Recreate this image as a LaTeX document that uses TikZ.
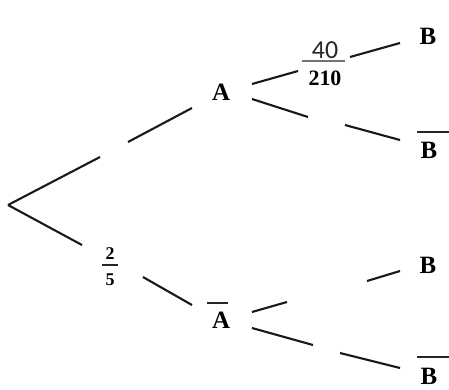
\documentclass[tikz,border=0pt]{standalone}
\usepackage{fontspec}
\setmainfont{Liberation Serif}
\newfontfamily\sansf{Carlito}
\begin{document}
\begin{tikzpicture}[x=1bp,y=-1bp,
  lbl/.style={inner sep=0pt, font=\fontsize{25}{25}\selectfont\bfseries},
  small/.style={inner sep=0pt, font=\fontsize{18}{18}\selectfont\bfseries},
  mid/.style={inner sep=0pt, font=\fontsize{22}{22}\selectfont\bfseries},
  sfn/.style={inner sep=0pt, font=\fontsize{26}{26}\selectfont\sansf, text=black!85},
  edge/.style={line width=2.1bp, black!90},
  bar/.style={line width=1.6bp, black!85},
  gbar/.style={line width=2bp, black!55}]
\useasboundingbox (0,0) rectangle (449,389);
% nodes
\coordinate (root) at (8,205);
\node[lbl] (A) at (221,92) {A};
\node[lbl] (A2) at (221,320) {A};
\node[lbl] (B1) at (428,36) {B};
\node[lbl] (B2) at (429,150) {B};
\node[lbl] (B3) at (428,265) {B};
\node[lbl] (B4) at (429,376) {B};
\node[sfn] (n40) at (325,50) {40};
\node[mid] (n210) at (325,78) {210};
\node[small] (n2) at (110,254) {2};
\node[small] (n5) at (110,280) {5};
% bars
\coordinate (gA1) at (207,303); \coordinate (gA2) at (228,303);
\draw[bar] (gA1) -- (gA2);
\coordinate (gB21) at (417,132); \coordinate (gB22) at (449,132);
\draw[bar] (gB21) -- (gB22);
\coordinate (gB41) at (417,357); \coordinate (gB42) at (449,357);
\draw[bar] (gB41) -- (gB42);
\coordinate (f1) at (302,61); \coordinate (f2) at (345,61);
\draw[gbar] (f1) -- (f2);
\coordinate (f3) at (102,265); \coordinate (f4) at (118,265);
\draw[bar] (f3) -- (f4);
% edge segments (with gaps)
\coordinate (e1a) at (100,157); \coordinate (e1b) at (128,142); \coordinate (e1c) at (192,108);
\draw[edge] (root) -- (e1a) (e1b) -- (e1c);
\coordinate (e2a) at (252,84); \coordinate (e2b) at (298,71);
\coordinate (e2c) at (350,57); \coordinate (e2d) at (400,43);
\draw[edge] (e2a) -- (e2b) (e2c) -- (e2d);
\coordinate (e3a) at (252,99); \coordinate (e3b) at (308,117);
\coordinate (e3c) at (345,125); \coordinate (e3d) at (400,140);
\draw[edge] (e3a) -- (e3b) (e3c) -- (e3d);
\coordinate (e4a) at (82,245); \coordinate (e4b) at (143,277); \coordinate (e4c) at (192,305);
\draw[edge] (root) -- (e4a) (e4b) -- (e4c);
\coordinate (e5a) at (252,312); \coordinate (e5b) at (287,302);
\coordinate (e5c) at (367,281); \coordinate (e5d) at (400,271);
\draw[edge] (e5a) -- (e5b) (e5c) -- (e5d);
\coordinate (e6a) at (252,328); \coordinate (e6b) at (313,345);
\coordinate (e6c) at (340,353); \coordinate (e6d) at (400,368);
\draw[edge] (e6a) -- (e6b) (e6c) -- (e6d);
\end{tikzpicture}
\end{document}
